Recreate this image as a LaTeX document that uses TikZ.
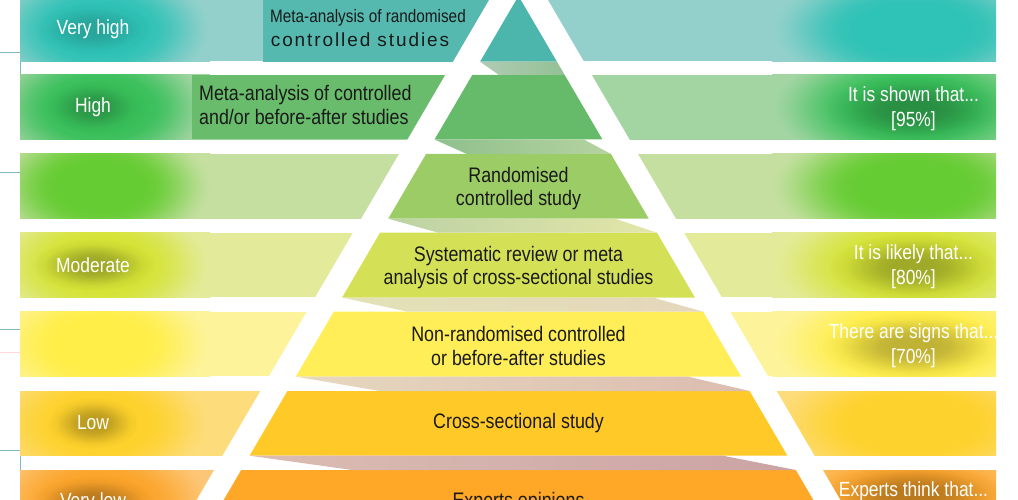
\documentclass[tikz,border=0pt]{standalone}
\usepackage{fontspec}
\setmainfont{Liberation Sans}[FakeStretch=0.85]
\newfontfamily\widefont{Liberation Sans}[LetterSpace=10]
\definecolor{paleA}{HTML}{93D0CB}\definecolor{satA}{HTML}{2FC2B6}
\definecolor{paleB}{HTML}{A3D5A3}\definecolor{satB}{HTML}{38BF5A}
\definecolor{paleC}{HTML}{C4DFA0}\definecolor{satC}{HTML}{66CC33}
\definecolor{paleD}{HTML}{E3EB9A}\definecolor{satD}{HTML}{D5E336}
\definecolor{paleE}{HTML}{FDF39A}\definecolor{satE}{HTML}{FFEE48}
\definecolor{paleF}{HTML}{FDDC7C}\definecolor{satF}{HTML}{FDD22C}
\definecolor{paleG}{HTML}{FDC676}\definecolor{satG}{HTML}{FBA42A}
\definecolor{pyrA}{HTML}{4DB6AC}\definecolor{pyrB}{HTML}{66BB6A}
\definecolor{pyrC}{HTML}{9CCC65}\definecolor{pyrD}{HTML}{D4E157}
\definecolor{pyrE}{HTML}{FFEE58}\definecolor{pyrF}{HTML}{FFCA28}
\definecolor{pyrG}{HTML}{FFA726}
\definecolor{boxA}{HTML}{55B9B0}\definecolor{boxB}{HTML}{68BC6B}
\definecolor{rA1}{HTML}{B0CBB5}\definecolor{rA2}{HTML}{93C193}
\definecolor{rB1}{HTML}{8FC08D}\definecolor{rB2}{HTML}{B5D3A0}
\definecolor{rC1}{HTML}{BCD2A4}\definecolor{rC2}{HTML}{E4E6A8}
\definecolor{rD1}{HTML}{E2E2B6}\definecolor{rD2}{HTML}{E5D6BC}
\definecolor{rE1}{HTML}{E6D8BE}\definecolor{rE2}{HTML}{DCBCB0}
\definecolor{rF1}{HTML}{DBBDB3}\definecolor{rF2}{HTML}{CBA3A4}
\definecolor{margin}{HTML}{7DB9BE}
\definecolor{darktext}{HTML}{1A1A1A}
\colorlet{blobin}{satA}\colorlet{blobout}{paleA}
\pgfdeclareradialshading[blobin,blobout]{blobsh}{\pgfpointorigin}{color(0bp)=(blobin); color(10bp)=(blobin); color(13bp)=(blobin!92!blobout); color(16bp)=(blobin!72!blobout); color(19bp)=(blobin!45!blobout); color(22bp)=(blobin!18!blobout); color(24bp)=(blobin!4!blobout); color(25bp)=(blobout); color(50bp)=(blobout)}
\pgfdeclareradialshading{glowfadesh}{\pgfpointorigin}{color(0bp)=(pgftransparent!0); color(6bp)=(pgftransparent!0); color(10bp)=(pgftransparent!15); color(15bp)=(pgftransparent!50); color(20bp)=(pgftransparent!85); color(25bp)=(pgftransparent!100); color(50bp)=(pgftransparent!100)}
\pgfdeclarefading{glowfade}{\pgfuseshading{glowfadesh}}
\newcommand\drawband[3]{%
  \pgfmathsetmacro\bandbot{#1+64.7}\pgfmathsetmacro\bandmid{#1+32.35}%
  \begin{scope}
    \clip (20,#1) rectangle (996,\bandbot);
    \fill[#2] (20,#1) rectangle (996,\bandbot);
    \colorlet{blobin}{#3}\colorlet{blobout}{#2}%
    \begin{scope}
      \clip (20,#1) rectangle (300,\bandbot);
      \shade[shading=blobsh] (-10,\bandmid-64) rectangle (210,\bandmid+64);
    \end{scope}
    \begin{scope}
      \clip (700,#1) rectangle (996,\bandbot);
      \shade[shading=blobsh] (772,\bandmid-64) rectangle (1052,\bandmid+64);
    \end{scope}
  \end{scope}}
\newcommand\bandglow[6]{% top, x, y, rx, ry, opacity
  \pgfmathsetmacro\bandbot{#1+64.7}%
  \begin{scope}
    \clip (20,#1) rectangle (996,\bandbot);
    \fill[black, opacity=#6, path fading=glowfade] (#2,#3) ellipse (#4 and #5);
  \end{scope}}
\tikzset{
  wlabel/.style={text=white, font=\fontsize{20.5}{25}\selectfont, align=center, inner sep=0pt},
  plabel/.style={text=darktext, font=\fontsize{21}{23.5}\selectfont, align=center, inner sep=0pt},
  marginline/.style={draw=margin, line width=1pt},
}
\begin{document}
\begin{tikzpicture}[x=1pt,y=-1pt]
\useasboundingbox (0,0) rectangle (1018,500);
\clip (0,0) rectangle (1018,500);
\fill[white] (0,0) rectangle (1018,500);

% left margin connector fragments
\coordinate (m1a) at (0,52.3); \coordinate (m1b) at (20,52.3); \coordinate (m1c) at (20,74);
\coordinate (m2a) at (0,172.7); \coordinate (m2b) at (20,172.7); \coordinate (m2c) at (20,193);
\coordinate (m3a) at (0,329); \coordinate (m3b) at (20,329); \coordinate (m3c) at (20,352);
\coordinate (m4a) at (0,450); \coordinate (m4b) at (20,450); \coordinate (m4c) at (20,471.7);
\coordinate (m5a) at (0,352); \coordinate (m5b) at (20,352);
\draw[marginline] (m1a) -- (m1b) -- (m1c);
\draw[marginline] (m2a) -- (m2b) -- (m2c);
\draw[marginline] (m3a) -- (m3b) -- (m3c);
\draw[marginline] (m4a) -- (m4b) -- (m4c);
\draw[draw=pink!60, line width=0.8pt] (m5a) -- (m5b);

% bands
\drawband{-3.2}{paleA}{satA}
\drawband{75}{paleB}{satB}
\drawband{154}{paleC}{satC}
\drawband{232.7}{paleD}{satD}
\drawband{311.7}{paleE}{satE}
\drawband{391}{paleF}{satF}
\drawband{470}{paleG}{satG}

% glows behind white labels
\bandglow{-3.2}{93}{29}{60}{26}{0.14}
\bandglow{75}{93}{107}{48}{26}{0.2}
\bandglow{232.7}{93}{265}{62}{26}{0.25}
\bandglow{391}{93}{423}{46}{26}{0.25}
\bandglow{470}{93}{502}{62}{26}{0.25}
\bandglow{75}{913.5}{109}{90}{34}{0.25}
\bandglow{232.7}{913.5}{267}{85}{34}{0.25}
\bandglow{311.7}{913.5}{346}{92}{34}{0.25}
\bandglow{470}{913.5}{494}{92}{30}{0.25}

% left boxes in bands 1 and 2
\fill[boxA] (263,-3.2) rectangle (520,61.7);
\fill[boxB] (192,75) rectangle (520,139.5);

% white pyramid body with its border stripes
\fill[white] (518.5,-50.2) -- (875.44,560) -- (161.56,560) -- cycle;

% pyramid levels
\fill[pyrA] (518.5,-4) -- (556.93,61.7) -- (480.07,61.7) -- cycle;
\fill[pyrB] (472.28,75) -- (564.72,75) -- (602.45,139.5) -- (434.55,139.5) -- cycle;
\fill[pyrC] (426.07,154) -- (610.93,154) -- (648.78,218.7) -- (388.22,218.7) -- cycle;
\fill[pyrD] (380.03,232.7) -- (656.97,232.7) -- (694.88,297.5) -- (342.12,297.5) -- cycle;
\fill[pyrE] (333.82,311.7) -- (703.18,311.7) -- (741.15,376.6) -- (295.85,376.6) -- cycle;
\fill[pyrF] (287.42,391) -- (749.58,391) -- (787.42,455.7) -- (249.58,455.7) -- cycle;
\fill[pyrG] (241.21,470) -- (795.79,470) -- (836.74,540) -- (200.26,540) -- cycle;

% ribbons between levels
\shade[left color=rA1, right color=rA2] (480.07,61.7) -- (556.93,61.7) -- (564.72,75) -- (499,75) -- cycle;
\shade[left color=rB1, right color=rB2] (434.55,139.5) -- (583.95,139.5) -- (610.93,154) -- (466.8,154) -- cycle;
\shade[left color=rC1, right color=rC2] (388.22,218.7) -- (614.9,218.7) -- (656.97,232.7) -- (438.2,232.7) -- cycle;
\shade[left color=rD1, right color=rD2] (342.12,297.5) -- (652.6,297.5) -- (703.18,311.7) -- (407.7,311.7) -- cycle;
\shade[left color=rE1, right color=rE2] (295.85,376.6) -- (687.7,376.6) -- (749.58,391) -- (379.8,391) -- cycle;
\shade[left color=rF1, right color=rF2] (249.58,455.7) -- (722.9,455.7) -- (795.79,470) -- (352.1,470) -- cycle;

% left labels
\node[wlabel] (vh) at (93,29) {Very high};
\node[wlabel] (hi) at (93,107) {High};
\node[wlabel] (mo) at (93,265) {Moderate};
\node[wlabel] (lo) at (93,423) {Low};
\node[wlabel] (vl) at (93,502) {Very low};

% right labels
\node[wlabel] (r95) at (913.5,109) {It is shown that...\\{}[95\%]};
\node[wlabel] (r80) at (913.5,267) {It is likely that...\\{}[80\%]};
\node[wlabel] (r70) at (913.5,346) {There are signs that...\\{}[70\%]};
\node[wlabel, anchor=base] (rex) at (913.5,496.5) {Experts think that...};

% box texts
\node[text=darktext, inner sep=0pt, anchor=base, font=\fontsize{18}{22}\selectfont] (ba1) at (368,23) {Meta-analysis of randomised};
\node[text=darktext, inner sep=0pt, anchor=base, font=\fontsize{19}{22}\widefont] (ba2) at (360,46.5) {controlled studies};
\node[text=darktext, inner sep=0pt, anchor=base west, font=\fontsize{21}{24}\selectfont] (bb1) at (199,100.5) {Meta-analysis of controlled};
\node[text=darktext, inner sep=0pt, anchor=base west, font=\fontsize{21}{24}\selectfont] (bb2) at (199,125) {and/or before-after studies};

% pyramid texts
\node[plabel] (p3) at (518.5,188.5) {Randomised\\controlled study};
\node[plabel] (p4) at (518.5,267.5) {Systematic review or meta\\analysis of cross-sectional studies};
\node[plabel] (p5) at (518.5,346) {Non-randomised controlled\\or before-after studies};
\node[plabel] (p6) at (518.5,423.5) {Cross-sectional study};
\node[plabel] (p7) at (518.5,502) {Experts opinions};
\end{tikzpicture}
\end{document}
